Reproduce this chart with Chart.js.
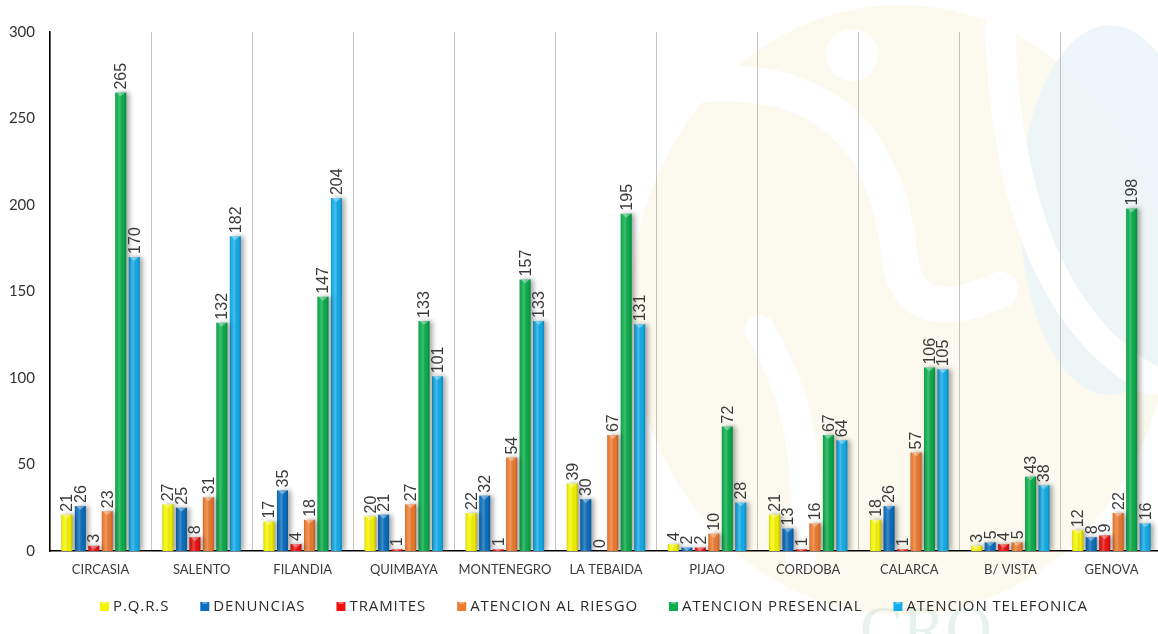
<!DOCTYPE html>
<html>
<head>
<meta charset="utf-8">
<script src="https://cdn.jsdelivr.net/npm/chart.js@4.4.1/dist/chart.umd.min.js"></script>
<style>
  html, body { margin: 0; padding: 0; background: #ffffff; overflow: hidden; }
  #wrap { width: 1166px; height: 634px; }
</style>
</head>
<body>
<div id="wrap"><canvas id="c" width="1166" height="634"></canvas></div>
<script>
// Municipios atendidos
const categories = ['CIRCASIA', 'SALENTO', 'FILANDIA', 'QUIMBAYA', 'MONTENEGRO', 'LA TEBAIDA', 'PIJAO', 'CORDOBA', 'CALARCA', 'B/ VISTA', 'GENOVA'];

// Número de atenciones por tipo
const pqrs                = [21, 27, 17, 20, 22, 39, 4, 21, 18, 3, 12];
const denuncias           = [26, 25, 35, 21, 32, 30, 2, 13, 26, 5, 8];
const tramites            = [3, 8, 4, 1, 1, 0, 2, 1, 1, 4, 9];
const atencionRiesgo      = [23, 31, 18, 27, 54, 67, 10, 16, 57, 5, 22];
const atencionPresencial  = [265, 132, 147, 133, 157, 195, 72, 67, 106, 43, 198];
const atencionTelefonica  = [170, 182, 204, 101, 133, 131, 28, 64, 105, 38, 16];

const seriesNames = ['P.Q.R.S', 'DENUNCIAS', 'TRAMITES', 'ATENCION AL RIESGO', 'ATENCION PRESENCIAL', 'ATENCION TELEFONICA'];
const yTicks = [0, 50, 100, 150, 200, 250, 300];

const colors = ['#F5F500', '#0A6FBF', '#F01010', '#EE7B30', '#0BAE4C', '#12AEEB'];
const seriesValues = [pqrs, denuncias, tramites, atencionRiesgo, atencionPresencial, atencionTelefonica];

const datasets = seriesNames.map((name, i) => ({
  label: name,
  data: seriesValues[i],
  backgroundColor: colors[i],
  borderWidth: 0,
  categoryPercentage: 0.8,
  barPercentage: 0.815
}));

// Faint logo drawn behind the plot
const backdrop = {
  id: 'backdrop',
  beforeDraw(chart) {
    const ctx = chart.ctx;
    ctx.save();
    ctx.fillStyle = '#ffffff';
    ctx.fillRect(0, 0, chart.width, chart.height);

    // cream body
    ctx.fillStyle = 'rgba(250,247,228,0.6)';
    ctx.beginPath();
    ctx.ellipse(900, 310, 270, 305, 0, 0, Math.PI * 2);
    ctx.fill();

    // pale blue crescent on the right
    ctx.fillStyle = 'rgba(232,242,249,0.7)';
    ctx.beginPath();
    ctx.ellipse(1110, 210, 90, 185, 0, 0, Math.PI * 2);
    ctx.fill();

    // white swooshes
    ctx.strokeStyle = '#ffffff';
    ctx.lineCap = 'round';
    ctx.lineWidth = 36;
    ctx.beginPath();
    ctx.moveTo(660, 90);
    ctx.quadraticCurveTo(880, 50, 900, 260);
    ctx.quadraticCurveTo(910, 330, 1000, 290);
    ctx.stroke();
    ctx.lineWidth = 30;
    ctx.beginPath();
    ctx.moveTo(1000, 30);
    ctx.quadraticCurveTo(1010, 300, 1150, 380);
    ctx.stroke();
    ctx.beginPath();
    ctx.moveTo(760, 330);
    ctx.quadraticCurveTo(820, 430, 800, 560);
    ctx.stroke();
    ctx.fillStyle = '#ffffff';
    ctx.beginPath();
    ctx.arc(852, 55, 26, 0, Math.PI * 2);
    ctx.fill();

    // faint lettering
    ctx.fillStyle = 'rgba(175,210,200,0.3)';
    ctx.font = '64px "Liberation Serif", serif';
    ctx.textBaseline = 'alphabetic';
    ctx.fillText('CRQ', 860, 650);
    ctx.restore();
  }
};

// Drop shadow, bevel shading and rotated value labels for each bar
const barDecor = {
  id: 'barDecor',
  beforeDatasetsDraw(chart) {
    const ctx = chart.ctx;
    ctx.save();
    ctx.shadowColor = 'rgba(0,0,0,0.35)';
    ctx.shadowBlur = 5;
    ctx.shadowOffsetX = 3;
    ctx.shadowOffsetY = 0;
  },
  afterDatasetsDraw(chart) {
    const ctx = chart.ctx;
    ctx.restore();
    ctx.save();
    chart.data.datasets.forEach((ds, di) => {
      const meta = chart.getDatasetMeta(di);
      meta.data.forEach((bar, i) => {
        const left = bar.x - bar.width / 2;
        const right = bar.x + bar.width / 2;
        const top = bar.y;
        const bottom = bar.base;
        const h = bottom - top;
        if (h > 0.5) {
          const g = ctx.createLinearGradient(left, 0, right, 0);
          g.addColorStop(0, 'rgba(0,0,0,0.18)');
          g.addColorStop(0.18, 'rgba(255,255,255,0.05)');
          g.addColorStop(0.4, 'rgba(255,255,255,0.22)');
          g.addColorStop(0.75, 'rgba(0,0,0,0.02)');
          g.addColorStop(1, 'rgba(0,0,0,0.22)');
          ctx.fillStyle = g;
          ctx.fillRect(left, top, right - left, h);
          // small bevel at the top
          const th = Math.min(4, h);
          ctx.fillStyle = 'rgba(255,255,255,0.35)';
          ctx.beginPath();
          ctx.moveTo(left + 1, top);
          ctx.lineTo(right - 1, top);
          ctx.lineTo(bar.x, top + th);
          ctx.closePath();
          ctx.fill();
        }
        // value label, rotated
        const v = ds.data[i];
        ctx.save();
        ctx.translate(bar.x + 1, top - 3);
        ctx.rotate(-Math.PI / 2);
        ctx.fillStyle = '#3a3a3a';
        ctx.font = '16px "Liberation Sans", Arial, sans-serif';
        ctx.textAlign = 'left';
        ctx.textBaseline = 'middle';
        ctx.fillText(String(v), 0, 0);
        ctx.restore();
      });
    });
    ctx.restore();
  }
};

// Legend row along the bottom
const bottomLegend = {
  id: 'bottomLegend',
  afterDraw(chart) {
    const ctx = chart.ctx;
    ctx.save();
    ctx.font = '15px "Open Sans", "Noto Sans", sans-serif';
    ctx.letterSpacing = '0.9px';
    ctx.textBaseline = 'middle';
    const box = 9, gapText = 4, gapItem = 31;
    const items = chart.data.datasets.map(ds => ({
      label: ds.label, color: ds.backgroundColor,
      w: box + gapText + ctx.measureText(ds.label).width
    }));
    const total = items.reduce((s, it) => s + it.w, 0) + gapItem * (items.length - 1);
    let x = 594 - total / 2;
    const y = 606;
    items.forEach(it => {
      ctx.fillStyle = it.color;
      ctx.fillRect(x, y - 4, box, box);
      ctx.fillStyle = 'rgba(255,255,255,0.35)';
      ctx.fillRect(x + 2, y - 4, box - 4, 2);
      ctx.fillStyle = '#2b2b2b';
      ctx.fillText(it.label, x + box + gapText, y + 1);
      x += it.w + gapItem;
    });
    ctx.restore();
  }
};

new Chart(document.getElementById('c'), {
  type: 'bar',
  data: { labels: categories, datasets },
  options: {
    responsive: false,
    animation: false,
    layout: { padding: { top: 32, left: 0, right: 4, bottom: 53 } },
    plugins: {
      legend: { display: false },
      tooltip: { enabled: false }
    },
    scales: {
      x: {
        offset: true,
        grid: { display: true, offset: true, color: '#c4c4c4', lineWidth: 1, drawTicks: false },
        border: { display: true, color: '#000000', width: 1.5 },
        ticks: {
          padding: 11,
          color: '#3a3a3a',
          font: { family: 'Lato, "Open Sans", sans-serif', size: 13 },
          maxRotation: 0,
          autoSkip: false
        },
        afterFit(scale) { scale.height = 30; }
      },
      y: {
        min: 0,
        max: 300,
        afterBuildTicks(scale) { scale.ticks = yTicks.map(v => ({ value: v })); },
        grid: { display: false, drawTicks: false },
        border: { display: true, color: '#000000', width: 1.5 },
        ticks: {
          padding: 15,
          color: '#333333',
          font: { family: 'Lato, "Open Sans", sans-serif', size: 15 }
        },
        afterFit(scale) { scale.width = 50; }
      }
    }
  },
  plugins: [backdrop, barDecor, bottomLegend]
});
</script>
</body>
</html>
